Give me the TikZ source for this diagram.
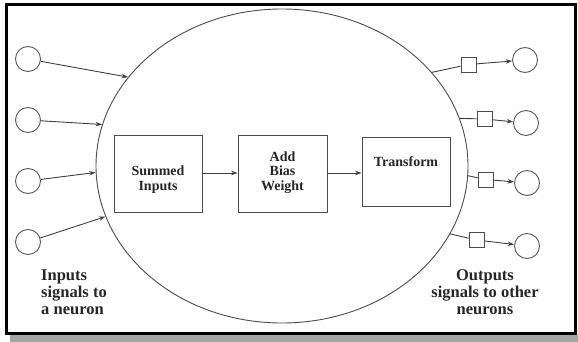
\documentclass[tikz,border=0pt]{standalone}
\usepackage{fontspec}
\setmainfont{Liberation Serif}
\usetikzlibrary{shapes.geometric,arrows.meta}
\begin{document}
\begin{tikzpicture}[x=1pt,y=-1pt,
  ln/.style={draw=black!75,line width=0.9pt},
  arr/.style={ln,-{Stealth[length=6.5pt,width=4.5pt]}},
  incirc/.style={circle,draw=black!65,line width=0.9pt,minimum size=25pt,inner sep=0pt},
  sqbox/.style={rectangle,draw=black!70,line width=0.9pt,minimum size=15pt,inner sep=0pt},
  stepbox/.style={rectangle,draw=black!70,line width=0.9pt,inner sep=0pt},
  boxtxt/.style={font=\fontsize{14pt}{14.8pt}\selectfont\bfseries,text=black!85,align=center},
  lbl/.style={font=\fontsize{16.5pt}{17pt}\selectfont\bfseries,text=black!85}]
\useasboundingbox (0,0) rectangle (578,342);
% shadow and frame
\fill[black!35] (10,335) rectangle (578,342);
\fill[white] (6.5,5) rectangle (575,333);
\draw[line width=3pt] (6.5,5) rectangle (575,333);
% cell body
\node[ellipse,draw=black!70,line width=0.9pt,minimum width=372pt,minimum height=314pt,inner sep=0pt] (cell) at (282,166) {};
% inputs
\node[incirc] (in1) at (28,59) {};
\node[incirc] (in2) at (28,120) {};
\node[incirc] (in3) at (28,181) {};
\node[incirc] (in4) at (28,242) {};
\draw[arr] (in1) -- (cell.150);
\draw[arr] (in2) -- (cell.167);
\draw[arr] (in3) -- (cell.182);
\draw[arr] (in4) -- (cell.196.5);
% processing boxes
\node[stepbox,minimum width=88pt,minimum height=77pt,
  label={[boxtxt,yshift=-6pt]center:Summed\\Inputs}] (sum) at (158,173.5) {};
\node[stepbox,minimum width=89pt,minimum height=77pt,
  label={[boxtxt,yshift=1pt]center:Add\\Bias\\Weight}] (bias) at (282.5,173.5) {};
\node[stepbox,minimum width=88pt,minimum height=69pt,
  label={[boxtxt,yshift=9.5pt]center:Transform}] (tr) at (406,171.5) {};
\draw[arr] (sum.east |- 0,173) -- (bias.west |- 0,173);
\draw[arr] (bias.east |- 0,173) -- (tr.west |- 0,173);
% outputs
\node[sqbox] (sq1) at (468.5,64.5) {};
\node[sqbox] (sq2) at (484.5,119) {};
\node[sqbox] (sq3) at (486,179.5) {};
\node[sqbox] (sq4) at (476.5,240) {};
\node[incirc] (out1) at (525,60) {};
\node[incirc] (out2) at (526,123) {};
\node[incirc] (out3) at (527,183) {};
\node[incirc] (out4) at (527,246) {};
\draw[ln] (cell.32) -- (sq1);
\draw[ln] (cell.15) -- (sq2);
\draw[ln] (cell.-3.7) -- (sq3);
\draw[ln] (cell.-22.2) -- (sq4);
\draw[arr] (sq1) -- (out1);
\draw[arr] (sq2) -- (out2);
\draw[arr] (sq3) -- (out3);
\draw[arr] (sq4) -- (out4);
% labels
\node[lbl,align=left,anchor=west,inner sep=0pt] (inlbl) at (41,292) {Inputs\\signals to\\a neuron};
\node[lbl,align=center,inner sep=0pt] (outlbl) at (485,292) {Outputs\\signals to other\\neurons};
\end{tikzpicture}
\end{document}
